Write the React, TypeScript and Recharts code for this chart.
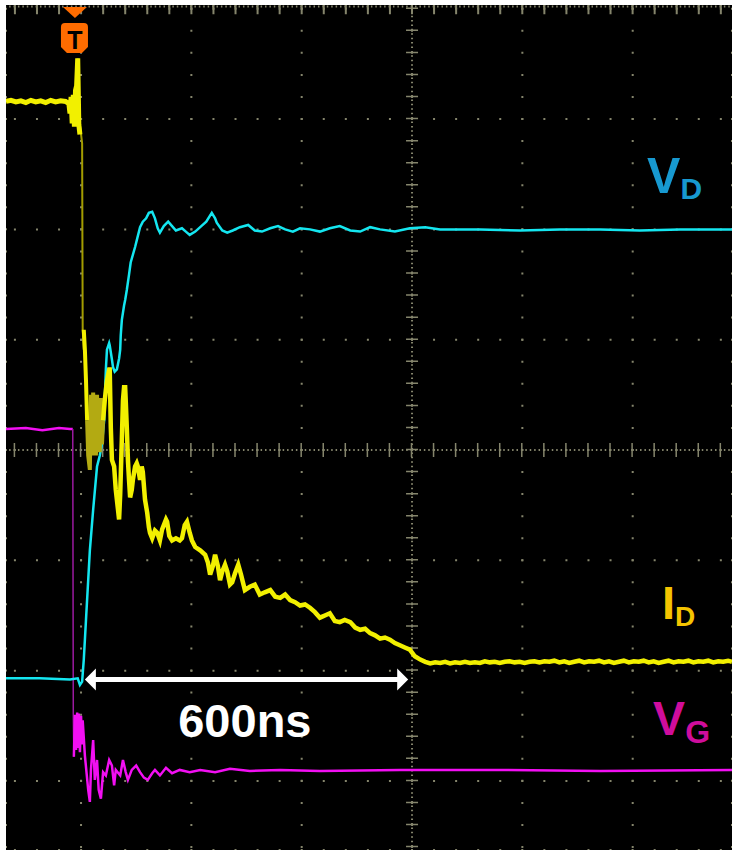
import { LineChart, Line, XAxis, YAxis, CartesianGrid, ReferenceLine, ReferenceDot } from 'recharts'

// time in ns (200 ns/div), amplitude in divisions
const xTicks = [-600, -400, -200, 0, 200, 400]
const yTicks = [-3, -2, -1, 0, 1, 2, 3, 4]

// I_D (yellow)
const idPre = [
  [-736, 3.16], [-727, 3.17], [-718, 3.155], [-709, 3.165], [-700, 3.15], [-691, 3.17], [-682, 3.155],
  [-673, 3.165], [-664, 3.15], [-655, 3.17], [-646, 3.155], [-637, 3.165], [-628, 3.16], [-622, 3.14],
  [-620, 3.05], [-618, 3.2], [-616, 2.96], [-614, 3.22], [-612, 2.93], [-610, 3.26], [-608, 3.3],
  [-606, 3.55], [-604, 2.95], [-602, 2.86],
]
const idEdge = [[-606, 3.55], [-602, 2.95], [-598, 2.78], [-597, 1.09], [-595, 0.91]]
const idHead = [[-595, 1.09], [-593, 0.91], [-591, 0.63], [-589, 0.27]]
const idBurst = [
  [-589, 0.27], [-587, -0.05], [-584, -0.18], [-582, 0.5], [-580, -0.05], [-578, 0.52], [-577, 0.02],
  [-575, 0.47], [-573, -0.05], [-571, 0.5], [-569, 0.02], [-568, 0.45], [-566, -0.02], [-564, 0.47],
  [-562, 0.05], [-560, 0.27],
]
const idMain = [
  [-560, 0.27], [-557, 0.45], [-553, 0.63],
  [-549, 0.73], [-548, 0.73], [-546, 0.2], [-544, -0.09], [-540, -0.15], [-537, -0.36], [-535, -0.45],
  [-533, -0.54], [-531, -0.63], [-529, -0.4], [-526, 0.1], [-524, 0.45], [-522, 0.57], [-520, 0.57],
  [-519, 0.45], [-517, 0.2], [-515, -0.09], [-513, -0.27], [-511, -0.43], [-508, -0.36], [-506, -0.27],
  [-502, -0.15], [-499, -0.12], [-497, -0.15], [-493, -0.27], [-490, -0.15], [-488, -0.2], [-484, -0.45],
  [-480, -0.57], [-477, -0.7], [-475, -0.75], [-471, -0.8], [-466, -0.73], [-462, -0.75], [-457, -0.82],
  [-453, -0.72], [-446, -0.63], [-444, -0.65], [-440, -0.78], [-435, -0.82], [-428, -0.8], [-421, -0.82],
  [-417, -0.8], [-412, -0.68], [-408, -0.65], [-403, -0.75], [-399, -0.82], [-393, -0.88], [-384, -0.91],
  [-375, -0.95], [-370, -1.02], [-366, -1.13], [-361, -1.05], [-357, -0.95], [-352, -1.05], [-348, -1.18],
  [-344, -1.1], [-339, -1.04], [-335, -1.1], [-330, -1.22], [-326, -1.2], [-321, -1.12], [-315, -1.04],
  [-310, -1.13], [-303, -1.27], [-294, -1.24], [-285, -1.22], [-276, -1.31], [-267, -1.29], [-257, -1.27],
  [-248, -1.33], [-239, -1.34], [-230, -1.31], [-221, -1.36], [-212, -1.38], [-203, -1.41], [-194, -1.4],
  [-185, -1.43], [-176, -1.47], [-167, -1.52], [-158, -1.5], [-149, -1.48], [-140, -1.55], [-131, -1.56],
  [-122, -1.54], [-112, -1.56], [-103, -1.61], [-94, -1.63], [-85, -1.62], [-76, -1.66], [-67, -1.68],
  [-58, -1.71], [-49, -1.7], [-40, -1.72], [-31, -1.75], [-22, -1.77], [-13, -1.79], [-4, -1.81],
  [5, -1.87], [15, -1.9], [24, -1.92], [33, -1.935], [42, -1.925], [51, -1.93], [60, -1.92], [69, -1.935],
  [78, -1.925], [87, -1.93], [96, -1.92], [105, -1.93], [114, -1.925], [123, -1.93], [132, -1.915],
  [141, -1.925], [150, -1.92], [159, -1.93], [168, -1.92], [177, -1.915], [186, -1.925], [195, -1.92],
  [204, -1.93], [213, -1.92], [222, -1.915], [231, -1.925], [240, -1.915], [249, -1.92], [258, -1.91],
  [267, -1.925], [276, -1.915], [285, -1.93], [294, -1.92], [303, -1.91], [312, -1.925], [321, -1.915],
  [330, -1.92], [339, -1.91], [348, -1.925], [357, -1.915], [366, -1.93], [375, -1.92], [384, -1.91],
  [393, -1.925], [402, -1.915], [411, -1.92], [420, -1.91], [429, -1.925], [438, -1.915], [447, -1.93],
  [456, -1.92], [465, -1.91], [474, -1.925], [483, -1.915], [492, -1.92], [501, -1.91], [510, -1.925],
  [519, -1.915], [528, -1.92], [537, -1.91], [546, -1.925], [555, -1.915], [564, -1.92], [573, -1.91], [580, -1.92],
]

// V_D (cyan)
const vdTrace = [
  [-736, -2.07], [-675, -2.07], [-620, -2.08], [-606, -2.07], [-602, -2.13], [-598, -2.1], [-595, -1.9],
  [-591, -1.54], [-587, -1.18], [-584, -0.91], [-578, -0.54], [-571, -0.15], [-566, -0.05], [-562, 0.06],
  [-558, 0.27], [-557, 0.45], [-555, 0.73], [-553, 0.91], [-549, 0.97], [-548, 0.95], [-544, 0.82],
  [-542, 0.75], [-539, 0.71], [-535, 0.73], [-531, 0.83], [-529, 0.91], [-528, 1.04], [-526, 1.18],
  [-522, 1.31], [-520, 1.36], [-517, 1.45], [-513, 1.59], [-510, 1.7], [-506, 1.77], [-502, 1.84],
  [-499, 1.9], [-493, 2.02], [-488, 2.07], [-482, 2.1], [-477, 2.15], [-471, 2.16], [-466, 2.1],
  [-461, 2.01], [-457, 1.97], [-450, 2.03], [-442, 2.07], [-435, 2.03], [-428, 1.99], [-417, 2.01],
  [-410, 1.98], [-403, 1.95], [-393, 1.98], [-384, 2.02], [-373, 2.07], [-363, 2.15], [-357, 2.1],
  [-354, 2.06], [-344, 1.99], [-335, 1.97], [-325, 1.99], [-312, 2.02], [-297, 2.04], [-285, 1.99],
  [-272, 1.98], [-257, 2.01], [-243, 2.03], [-230, 2.0], [-216, 1.98], [-203, 2.01], [-185, 2.0],
  [-167, 1.98], [-149, 2.01], [-131, 2.03], [-112, 1.99], [-94, 1.98], [-76, 2.02], [-58, 2.0],
  [-31, 1.98], [-4, 2.01], [24, 2.02], [51, 2.0], [123, 2.0], [196, 1.99], [268, 2.0], [341, 2.0],
  [413, 1.99], [486, 2.0], [580, 2.0],
]

// V_G (magenta)
const vgPre = [[-736, 0.19], [-700, 0.2], [-670, 0.18], [-640, 0.2], [-620, 0.19], [-615, 0.19]]
const vgEdge = [[-615, 0.19], [-614, -2.4], [-613, -2.78]]
const vgMain = [
  [-613, -2.78], [-611, -2.4], [-609, -2.72], [-607, -2.38], [-606, -2.7], [-604, -2.39], [-602, -2.74],
  [-600, -2.41], [-598, -2.67], [-597, -2.45], [-593, -2.77], [-587, -3.08], [-584, -3.19], [-582, -2.9],
  [-578, -2.63], [-575, -2.99], [-571, -2.81], [-568, -3.08], [-564, -3.16], [-560, -2.92], [-555, -2.95],
  [-549, -2.81], [-544, -2.86], [-540, -3.04], [-537, -2.9], [-529, -2.95], [-524, -2.81], [-519, -2.92],
  [-515, -2.99], [-508, -2.9], [-500, -2.86], [-493, -2.92], [-486, -2.97], [-479, -2.99], [-471, -2.93],
  [-466, -2.9], [-457, -2.95], [-446, -2.88], [-435, -2.93], [-421, -2.9], [-403, -2.92], [-384, -2.9],
  [-357, -2.92], [-330, -2.89], [-294, -2.91], [-239, -2.9], [-167, -2.91], [-22, -2.9], [160, -2.9],
  [341, -2.91], [580, -2.9],
]

const triggerTime = -611
const spanStart = -593
const spanEnd = -7
const spanLevel = -2.08

const toPts = (arr: number[][]) => arr.map(([t, v]) => ({ t, v }))

const GRID = '#85856c'
const FONT = '"Liberation Sans", Arial, sans-serif'

const ArrowHead = (dir: number) => (p: any) => (
  <polygon
    points={`${p.cx},${p.cy} ${p.cx + dir * 11},${p.cy - 11} ${p.cx + dir * 11},${p.cy + 11}`}
    fill="#fff"
  />
)

const TriggerMark = (p: any) => {
  const { cx, cy } = p
  return (
    <g>
      <polygon points={`${cx - 12},${cy + 2} ${cx + 12},${cy + 2} ${cx},${cy + 13}`} fill="#ff6c00" />
      <path
        d={`M${cx - 14},${cy + 22} Q${cx - 14},${cy + 18} ${cx - 10},${cy + 18} L${cx + 9},${cy + 18} Q${cx + 13},${cy + 18} ${cx + 13},${cy + 22} L${cx + 13},${cy + 42} L${cx + 7},${cy + 48} L${cx - 8},${cy + 48} L${cx - 14},${cy + 42} Z`}
        fill="#ff6c00"
      />
      <text x={cx} y={cy + 44} textAnchor="middle" fontFamily={FONT} fontWeight="bold" fontSize={25} fill="#000">
        T
      </text>
    </g>
  )
}

const TraceLabel = (main: string, sub: string, color: string, size: number, subSize: number, dy: number) => (p: any) => (
  <text x={p.cx} y={p.cy} fill={color} fontFamily={FONT} fontWeight="bold" fontSize={size}>
    {main}
    <tspan fontSize={subSize} dy={dy}>{sub}</tspan>
  </text>
)

const SpanText = (p: any) => (
  <text x={p.cx} y={p.cy} fill="#fff" fontFamily={FONT} fontWeight="bold" fontSize={47} textAnchor="middle">
    600ns
  </text>
)

export default function App() {
  return (
    <div style={{ position: 'absolute', left: 0, top: 0, width: 732, height: 850, background: '#fff' }}>
      <div style={{ position: 'absolute', left: 6, top: 5, width: 726, height: 845, background: '#000' }}>
        <LineChart width={726} height={845} margin={{ top: 0, right: 0, bottom: 0, left: 0 }}>
          <XAxis type="number" dataKey="t" domain={[-736, 580]} ticks={xTicks} hide allowDataOverflow />
          <YAxis type="number" domain={[-3.626, 4.034]} ticks={yTicks} hide allowDataOverflow />

          {/* dotted graticule */}
          <CartesianGrid horizontal={false} stroke={GRID} strokeWidth={2} strokeDasharray="2 20.06" strokeDashoffset={19.31} />
          <CartesianGrid vertical={false} stroke={GRID} strokeWidth={2} strokeDasharray="2 20.06" strokeDashoffset={14.14} />

          {/* center axes with fine ticks */}
          <ReferenceLine x={0} stroke={GRID} strokeWidth={2} strokeDasharray="1.5 2.912" strokeDashoffset={1.0} />
          <ReferenceLine x={0} stroke={GRID} strokeWidth={12} strokeDasharray="1.5 20.56" strokeDashoffset={19.4} />
          <ReferenceLine y={0} stroke={GRID} strokeWidth={2} strokeDasharray="1.5 2.912" strokeDashoffset={1.3} />
          <ReferenceLine y={0} stroke={GRID} strokeWidth={14} strokeDasharray="1.5 20.56" strokeDashoffset={14.4} />

          {/* top ruler */}
          <ReferenceLine y={4.02} stroke={GRID} strokeWidth={2} strokeDasharray="1.5 2.912" strokeDashoffset={1.3} />
          <ReferenceLine y={3.99} stroke={GRID} strokeWidth={9} strokeDasharray="2 20.06" strokeDashoffset={14.14} />

          <Line data={toPts(vgPre)} dataKey="v" stroke="#f20ff2" strokeWidth={2.5} dot={false} isAnimationActive={false} />
          <Line data={toPts(vgEdge)} dataKey="v" stroke="#9b1aa0" strokeWidth={1.5} dot={false} isAnimationActive={false} />
          <Line data={toPts(vgMain)} dataKey="v" stroke="#f20ff2" strokeWidth={2.5} dot={false} isAnimationActive={false} />
          <Line data={toPts(vdTrace)} dataKey="v" stroke="#14e6f0" strokeWidth={2.5} dot={false} isAnimationActive={false} />
          <Line data={toPts(idEdge)} dataKey="v" stroke="#a39c00" strokeWidth={2} dot={false} isAnimationActive={false} />
          <Line data={toPts(idBurst)} dataKey="v" stroke="#b3aa12" strokeWidth={4} dot={false} isAnimationActive={false} />
          <Line data={toPts(idPre)} dataKey="v" stroke="#f2f000" strokeWidth={5} dot={false} isAnimationActive={false} />
          <Line data={toPts(idHead)} dataKey="v" stroke="#f2f000" strokeWidth={4} dot={false} isAnimationActive={false} />
          <Line data={toPts(idMain)} dataKey="v" stroke="#f2f000" strokeWidth={4.5} dot={false} isAnimationActive={false} />

          {/* 600 ns span */}
          <ReferenceLine
            segment={[{ x: spanStart + 8, y: spanLevel }, { x: spanEnd - 8, y: spanLevel }]}
            stroke="#fff"
            strokeWidth={5}
          />
          <ReferenceDot x={spanStart} y={spanLevel} shape={ArrowHead(1)} ifOverflow="visible" />
          <ReferenceDot x={spanEnd} y={spanLevel} shape={ArrowHead(-1)} ifOverflow="visible" />
          <ReferenceDot x={-303} y={-2.6} shape={SpanText} ifOverflow="visible" />

          <ReferenceDot x={426} y={2.33} shape={TraceLabel('V', 'D', '#1799d0', 50, 30, 6)} ifOverflow="visible" />
          <ReferenceDot x={453} y={-1.53} shape={TraceLabel('I', 'D', '#f5c400', 47, 28, 7)} ifOverflow="visible" />
          <ReferenceDot x={437} y={-2.58} shape={TraceLabel('V', 'G', '#cf0d9c', 48, 32, 8)} ifOverflow="visible" />

          <ReferenceDot x={triggerTime} y={4.034} shape={TriggerMark} ifOverflow="visible" />
        </LineChart>
      </div>
    </div>
  )
}
